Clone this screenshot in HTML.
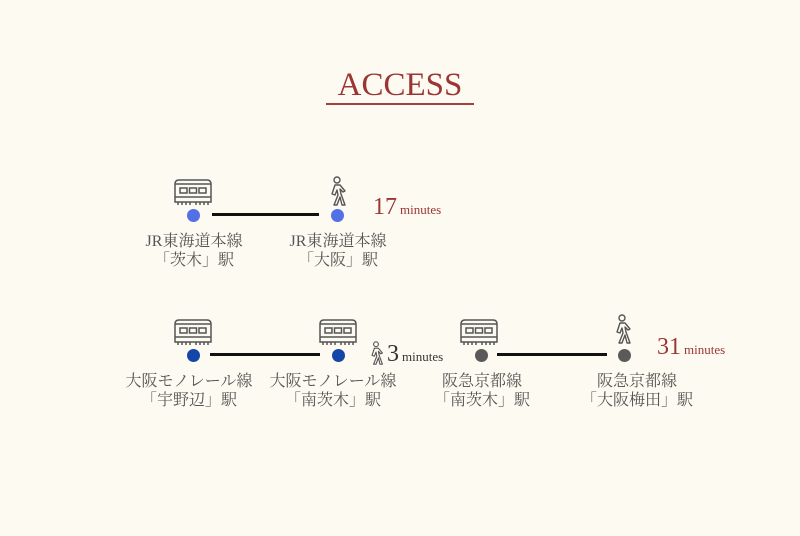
<!DOCTYPE html>
<html><head><meta charset="utf-8"><style>
body{margin:0;width:800px;height:536px;background:#fdfbf1;position:relative;overflow:hidden;font-family:"Liberation Serif","Noto Serif CJK JP",serif;color:#444}
.a{position:absolute}
.lbl{position:absolute;width:180px;text-align:center;font-size:16px;line-height:19px;color:#555}
.num{position:absolute;color:#9c3535;font-size:24px;white-space:nowrap;line-height:24px}
.num small{font-size:13px;margin-left:3px}
.dot{position:absolute;width:13px;height:13px;border-radius:50%}
.ln{position:absolute;height:3px;background:#111}
</style></head><body>
<svg width="0" height="0" style="position:absolute">
<defs>
<g id="tr" fill="none" stroke="#555" stroke-width="1.5">
<path d="M2 24 V6 Q2 2 6 2 H34 Q38 2 38 6 V24 Z" fill="#fdfbf1"/>
<line x1="2" y1="6" x2="38" y2="6"/>
<rect x="7" y="10" width="7" height="5"/><rect x="16.5" y="10" width="7" height="5"/><rect x="26" y="10" width="7" height="5"/>
<line x1="2" y1="19" x2="38" y2="19"/>
<path d="M5 24 v3 M9 24 v3 M13 24 v3 M17 24 v3 M23 24 v3 M27 24 v3 M31 24 v3 M35 24 v3"/>
</g>
<g id="wk" fill="none" stroke="#555" stroke-width="1.4" stroke-linejoin="round">
<circle cx="10" cy="4" r="3"/>
<path d="M8 9 L5 18 L8 19 L10 14 L11 19 L7 29 L10 29 L13 21 L15 29 L18 29 L14 18 L13 13 L16 16 L18 15 L13 9 Z"/>
</g>
</defs></svg>

<div class="a" style="left:300px;top:66px;width:200px;text-align:center;font-size:33px;color:#9c3535;line-height:38px">ACCESS</div>
<div class="a" style="left:326px;top:103px;width:148px;height:2px;background:#a54040"></div>

<!-- row 1 -->
<svg class="a" style="left:173px;top:178px" width="40" height="28"><use href="#tr"/></svg>
<svg class="a" style="left:327px;top:176px" width="20" height="31"><use href="#wk"/></svg>
<div class="dot" style="left:187px;top:209px;background:#5470e6"></div>
<div class="ln" style="left:212px;top:213px;width:107px"></div>
<div class="dot" style="left:331px;top:209px;background:#5470e6"></div>
<div class="num" style="left:373px;top:195px">17<small>minutes</small></div>
<div class="lbl" style="left:104px;top:232px">JR東海道本線<br>「茨木」駅</div>
<div class="lbl" style="left:248px;top:232px">JR東海道本線<br>「大阪」駅</div>

<!-- row 2 -->
<svg class="a" style="left:173px;top:318px" width="40" height="28"><use href="#tr"/></svg>
<svg class="a" style="left:318px;top:318px" width="40" height="28"><use href="#tr"/></svg>
<svg class="a" style="left:459px;top:318px" width="40" height="28"><use href="#tr"/></svg>
<svg class="a" style="left:612px;top:314px" width="20" height="31"><use href="#wk"/></svg>
<svg class="a" style="left:368px;top:341px;transform:scale(0.8);transform-origin:0 0" width="20" height="31"><use href="#wk"/></svg>
<div class="dot" style="left:187px;top:349px;background:#1446a8"></div>
<div class="ln" style="left:210px;top:353px;width:110px"></div>
<div class="dot" style="left:332px;top:349px;background:#1446a8"></div>
<div class="num" style="left:387px;top:342px;color:#333">3<small>minutes</small></div>
<div class="dot" style="left:475px;top:349px;background:#5a5a5a"></div>
<div class="ln" style="left:497px;top:353px;width:110px"></div>
<div class="dot" style="left:618px;top:349px;background:#5a5a5a"></div>
<div class="num" style="left:657px;top:335px">31<small>minutes</small></div>
<div class="lbl" style="left:99px;top:372px">大阪モノレール線<br>「宇野辺」駅</div>
<div class="lbl" style="left:243px;top:372px">大阪モノレール線<br>「南茨木」駅</div>
<div class="lbl" style="left:392px;top:372px">阪急京都線<br>「南茨木」駅</div>
<div class="lbl" style="left:547px;top:372px">阪急京都線<br>「大阪梅田」駅</div>
</body></html>
